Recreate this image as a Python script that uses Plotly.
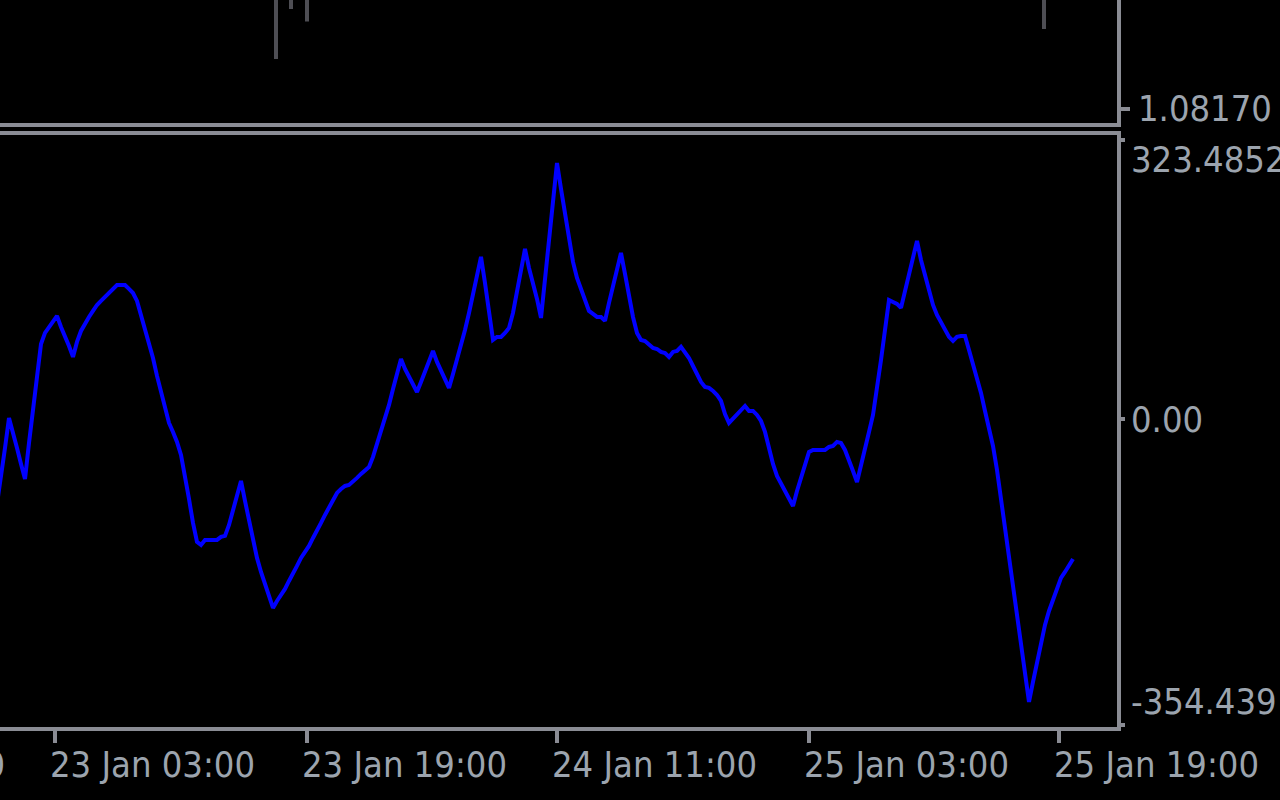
import plotly.graph_objects as go

# ---------------- data ----------------
# indicator values, one per bar (bar index starts at -1, first bar is just off the left edge)
indicator_values = [
    -98.3, -68.1, -33.4, 1.4, -14.8, -33.4, -51.9, -69.3, -27.6, 14.1,
    55.9, 87.1, 99.9, 106.8, 113.8, 119.6, 106.8, 96.4, 84.8, 72.1,
    89.5, 102.2, 111.5, 118.4, 125.4, 132.3, 137.0, 141.6, 146.2, 150.9,
    155.5, 155.5, 155.5, 150.9, 146.2, 137.0, 120.7, 104.5, 89.5, 70.9,
    50.1, 30.4, 11.8, -4.4, -14.8, -26.4, -41.5, -64.7, -92.5, -120.3,
    -142.3, -145.8, -140.0, -140.0, -140.0, -140.0, -136.5, -135.3, -122.6, -104.1,
    -87.8, -71.6, -94.8, -118.0, -140.0, -160.8, -177.1, -191.0, -203.7, -218.8,
    -210.7, -203.7, -196.8, -187.5, -179.4, -170.1, -160.8, -153.9, -146.9, -137.7,
    -129.6, -120.3, -111.0, -101.7, -92.5, -85.5, -80.9, -77.4, -76.2, -72.8,
    -68.1, -63.5, -58.9, -55.4, -43.8, -28.7, -12.5, 0.2, 16.5, 35.0,
    52.4, 69.8, 58.2, 48.9, 39.6, 31.5, 43.1, 54.7, 66.3, 79.0,
    66.3, 57.0, 47.7, 36.2, 52.4, 68.6, 84.8, 103.4, 123.1, 143.9,
    164.8, 188.0, 157.8, 125.4, 91.8, 95.3, 95.3, 99.9, 105.7, 123.1,
    148.6, 172.9, 197.2, 175.2, 157.8, 139.3, 117.3, 161.3, 207.7, 252.8,
    296.9, 266.8, 236.6, 207.7, 182.2, 163.6, 150.9, 137.0, 125.4, 121.9,
    118.4, 118.4, 113.8, 134.7, 153.2, 170.6, 192.6, 168.3, 142.8, 118.4,
    99.9, 91.8, 90.6, 87.1, 82.5, 81.3, 77.9, 76.7, 72.1, 77.9,
    79.0, 83.7, 77.9, 70.9, 61.6, 52.4, 43.1, 37.3, 36.2, 32.7,
    28.0, 21.1, 6.0, -4.4, 0.2, 4.9, 9.5, 15.3, 9.5, 9.5,
    4.9, -2.1, -14.8, -33.4, -51.9, -65.8, -75.1, -83.2, -92.5, -100.6,
    -83.2, -68.1, -51.9, -38.0, -35.7, -35.7, -35.7, -35.7, -32.2, -31.1,
    -26.4, -27.6, -35.7, -49.6, -60.0, -72.8, -51.9, -33.4, -14.8, 4.9,
    35.0, 68.6, 103.4, 138.1, 135.8, 133.5, 128.9, 148.6, 167.1, 184.5,
    206.5, 184.5, 167.1, 148.6, 132.3, 120.7, 111.5, 102.2, 95.3, 90.6,
    95.3, 96.4, 96.4, 80.2, 64.0, 47.7, 30.4, 9.5, -10.2, -31.1,
    -58.9, -92.5, -128.4, -165.5, -199.1, -231.5, -262.8, -294.1, -327.7, -304.5,
    -281.4, -259.3, -238.5, -222.3, -208.4, -195.6, -184.0, -177.1, -170.1, -162.0,
]
bar_index = list(range(-1, -1 + len(indicator_values)))

# price bars of the main window (only their lower ends reach into view)
price_bar_pos = [68.75, 72.5, 76.5, 260.75]
price_bar_low = [1.08190, 1.08210, 1.08205, 1.08202]
price_bar_high = [1.08240, 1.08240, 1.08240, 1.08240]

# axis labels
time_tick_pos = [-49.1, 13.6, 76.4, 139.1, 201.9, 264.6]
time_tick_text = ["22 Jan 11:00", "23 Jan 03:00", "23 Jan 19:00",
                  "24 Jan 11:00", "25 Jan 03:00", "25 Jan 19:00"]
ind_tick_vals = [323.4852, 0.0, -354.439]
ind_tick_text = ["323.4852", "0.00", "-354.439"]
price_tick_vals = [1.08170]
price_tick_text = ["1.08170"]

# ---------------- layout helpers ----------------
W, H = 1280, 800
FRAME = "#8A8C94"
TEXT = "#9CA4AE"
FONT = "Liberation Sans Narrow, Arial Narrow, DejaVu Sans Condensed, sans-serif"
FSIZE = 36

def px(x):
    return x / W

def py(y):
    return 1 - y / H

X_RIGHT = 1119  # right frame position
X_RANGE = [-0.25, 279.5]
# lower window: values 323.4852 at y=140, -354.439 at y=725; window 133..729
upp = (323.4852 + 354.439) / (725 - 140)
Y2_RANGE = [-354.439 - (729 - 725) * upp, 323.4852 + (140 - 133) * upp]
# upper window: 1.08170 at y=109, window 0..125
kp = 0.000004
Y1_RANGE = [1.08170 - (125 - 109) * kp, 1.08170 + 109 * kp]

def xpix(i):
    return (i - X_RANGE[0]) / (X_RANGE[1] - X_RANGE[0]) * X_RIGHT

def y1pix(v):
    return (Y1_RANGE[1] - v) / (Y1_RANGE[1] - Y1_RANGE[0]) * 125

fig = go.Figure()

fig.add_trace(go.Bar(
    x=price_bar_pos,
    y=[h - l for h, l in zip(price_bar_high, price_bar_low)],
    base=price_bar_low,
    width=1.0,
    marker=dict(color="#4E4E54", line=dict(width=0)),
    xaxis="x", yaxis="y", showlegend=False, hoverinfo="skip",
))

fig.add_trace(go.Scatter(
    x=bar_index, y=indicator_values, mode="lines",
    line=dict(color="#0000FF", width=4),
    xaxis="x2", yaxis="y2", showlegend=False, hoverinfo="skip",
))

xdom = [0, X_RIGHT / W]
fig.update_layout(
    width=W, height=H,
    margin=dict(l=0, r=0, t=0, b=0),
    paper_bgcolor="#000000", plot_bgcolor="#000000",
    showlegend=False,
    xaxis=dict(domain=xdom, anchor="y", range=X_RANGE, visible=False,
               fixedrange=True),
    yaxis=dict(domain=[py(125), 1], anchor="x", range=Y1_RANGE, side="right",
               showgrid=False, zeroline=False, showline=False,
               ticks="outside", ticklen=10, tickwidth=4, tickcolor=FRAME,
               tickvals=price_tick_vals, showticklabels=False),
    xaxis2=dict(domain=xdom, anchor="y2", range=X_RANGE,
                showgrid=False, zeroline=False, showline=False,
                ticks="outside", ticklen=13, tickwidth=4, tickcolor=FRAME,
                tickvals=time_tick_pos[1:], showticklabels=False),
    yaxis2=dict(domain=[py(729), py(133)], anchor="x2", range=Y2_RANGE,
                side="right", showgrid=False, zeroline=False, showline=False,
                ticks="outside", ticklen=5, tickwidth=4, tickcolor=FRAME,
                tickvals=ind_tick_vals, showticklabels=False),
)

# window frames
lw = 4
frames = [
    (0, 125, X_RIGHT + 2, 125),
    (X_RIGHT, 0, X_RIGHT, 127),
    (0, 133, X_RIGHT + 2, 133),
    (X_RIGHT, 131, X_RIGHT, 731),
    (0, 729, X_RIGHT + 2, 729),
]
for x0, y0, x1, y1 in frames:
    fig.add_shape(type="line", xref="paper", yref="paper",
                  x0=px(x0), y0=py(y0), x1=px(x1), y1=py(y1),
                  line=dict(color=FRAME, width=lw))

ann = []
# time labels, left aligned just before their tick
for pos, txt in zip(time_tick_pos, time_tick_text):
    ann.append(dict(x=px(xpix(pos) - 7), y=py(764), text=txt,
                    xanchor="left", yanchor="middle"))
# indicator scale labels
label_y = {"323.4852": 160, "0.00": 419, "-354.439": 701}
for v, txt in zip(ind_tick_vals, ind_tick_text):
    ann.append(dict(x=px(1129), y=py(label_y[txt]), text=txt,
                    xanchor="left", yanchor="middle"))
for v, txt in zip(price_tick_vals, price_tick_text):
    ann.append(dict(x=px(1136), y=py(y1pix(v)), text=txt,
                    xanchor="left", yanchor="middle"))
for a in ann:
    a.update(xref="paper", yref="paper", showarrow=False,
             font=dict(family=FONT, size=FSIZE, color=TEXT))
fig.update_layout(annotations=ann)

fig.write_html("out.html",
               config={"displayModeBar": False, "staticPlot": True},
               post_script="document.body.style.margin='0';"
                           "document.body.style.overflow='hidden';")
